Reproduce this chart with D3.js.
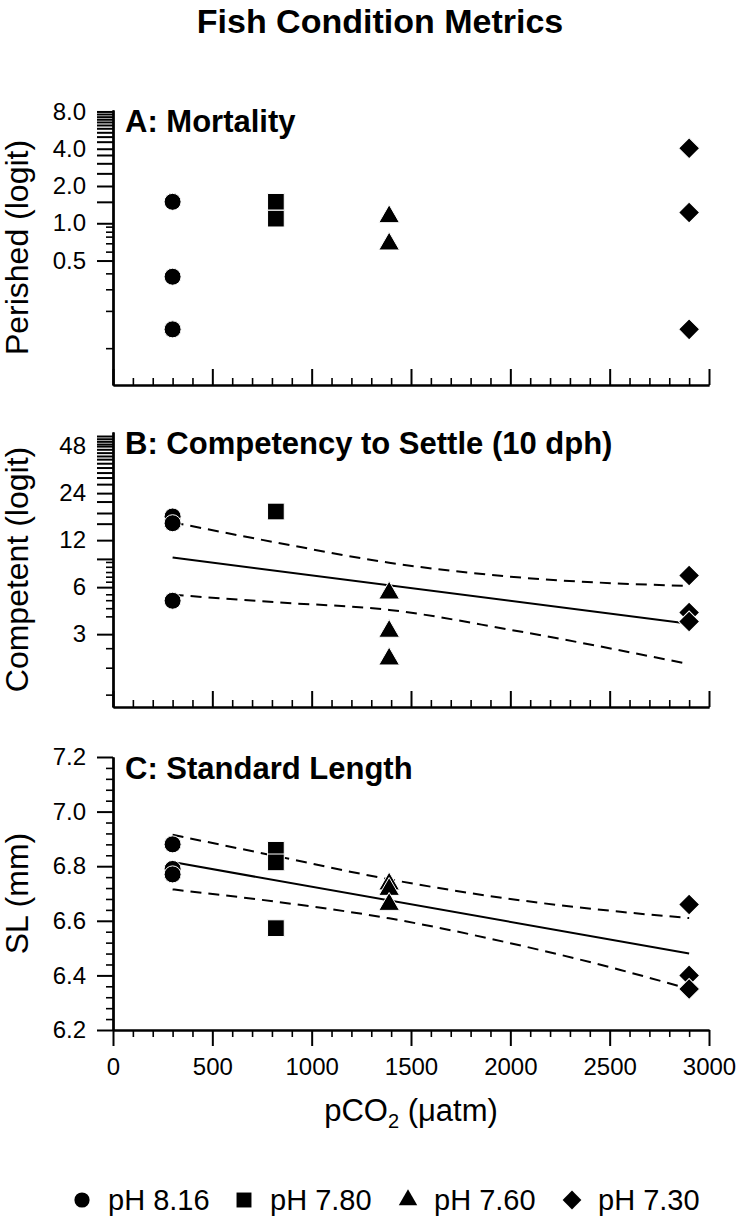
<!DOCTYPE html>
<html>
<head>
<meta charset="utf-8">
<script src="https://cdn.jsdelivr.net/npm/d3@7"></script>
<style>
body { margin: 0; background: #fff; }
text { font-family: "Liberation Sans", Arial, Helvetica, sans-serif; fill: #000; }
</style>
</head>
<body>
<script>
const width = 755
const height = 1229

// groups and their pCO2 levels
const groups = ["pH 8.16", "pH 7.80", "pH 7.60", "pH 7.30"]
const pco2 = [300, 820, 1390, 2900]

// replicate values per group
const mortality = [[1.49, 0.37, 0.139], [1.49, 1.09], [1.13, 0.68], [4.03, 1.22, 0.139]]
const competent = [[17.0, 15.4, 4.91], [18.3], [5.5, 3.13, 2.08], [7.12, 4.13, 3.62]]
const lengthSL = [[6.88, 6.79, 6.77], [6.86, 6.814, 6.573], [6.735, 6.715, 6.66], [6.66, 6.40, 6.35]]

// regression lines and confidence bands
const fitX = [300, 2900]
const competentFit = [9.29, 3.5]
const lengthFit = [6.815, 6.48]

const competentBandX = [300, 820, 1390, 2000, 2900]
const competentUpper = [15.6, 11.6, 8.6, 7.0, 6.1]
const competentLower = [5.36, 4.8, 4.29, 3.2, 1.93]

const lengthBandX = [300, 820, 1390, 2000, 2554, 2900]
const lengthUpper = [6.915, 6.837, 6.752, 6.68, 6.633, 6.61]
const lengthLower = [6.715, 6.67, 6.609, 6.518, 6.42, 6.35]

// ticks
const xMajor = [0, 500, 1000, 1500, 2000, 2500, 3000]
const xMinor = d3.range(0, 3001, 100).filter(v => v % 500 !== 0)

const mortLabels = [8, 4, 2, 1, 0.5]
const mortLong = [7.63, 7.26, 6.92, 6.58, 6.22, 5.85, 5.43, 5.01, 4.56, 3.56, 3.05, 2.53, 1.49]
const mortShort = [0.939, 0.855, 0.78, 0.689, 0.59, 0.394, 0.293, 0.196, 0.098]

const compLabels = [48, 24, 12, 6, 3]
const compLong = [55.7, 53.5, 51.5, 49.5, 45.8, 43.6, 41.5, 39.6, 37.3, 35, 32.5, 30.2, 27.4, 21.2, 17.9, 15.3, 9.1]
const compShort = [8.7, 8.1, 7.5, 7.0, 6.5, 5.4, 4.95, 4.4, 3.9, 2.44, 1.83, 1.23]

const slLabels = [6.2, 6.4, 6.6, 6.8, 7.0, 7.2]
const slMinor = d3.range(6.2, 7.2001, 0.04).filter(v => Math.abs(v * 5 - Math.round(v * 5)) > 0.01)

const svg = d3.select("body").append("svg")
  .attr("width", width)
  .attr("height", height)

const x = d3.scaleLinear().domain([0, 3000]).range([113, 709])

const shapes = [
  {type: d3.symbolCircle, size: 227, rot: 0},
  {type: d3.symbolSquare, size: 279, rot: 0},
  {type: d3.symbolTriangle, size: 185, rot: 0},
  {type: d3.symbolSquare, size: 220, rot: 45}
]

svg.append("text")
  .attr("x", 380).attr("y", 33)
  .attr("text-anchor", "middle")
  .attr("font-size", 34).attr("font-weight", "bold")
  .text("Fish Condition Metrics")

const panels = [
  {
    title: "A: Mortality", ylabel: "Perished (logit)",
    y: d3.scaleLog().base(2).domain([0.0494, 8.22]).range([385, 110]),
    values: mortality, labels: mortLabels, long: mortLong, short: mortShort,
    fmt: d3.format(".1f"), xLabels: false
  },
  {
    title: "B: Competency to Settle (10 dph)", ylabel: "Competent (logit)",
    y: d3.scaleLog().base(2).domain([1.025, 59.1]).range([707, 432]),
    values: competent, labels: compLabels, long: compLong, short: compShort,
    fmt: d3.format("d"), xLabels: false,
    fit: competentFit, bandX: competentBandX, upper: competentUpper, lower: competentLower
  },
  {
    title: "C: Standard Length", ylabel: "SL (mm)",
    y: d3.scaleLinear().domain([6.2, 7.2]).range([1030, 757]),
    values: lengthSL, labels: slLabels, long: [], short: slMinor,
    fmt: d3.format(".1f"), xLabels: true,
    fit: lengthFit, bandX: lengthBandX, upper: lengthUpper, lower: lengthLower
  }
]

function styleAxis(g, w) {
  g.select(".domain").attr("stroke", "#000").attr("stroke-width", 2)
  g.selectAll(".tick line").attr("stroke", "#000").attr("stroke-width", w)
  g.selectAll(".tick text").attr("font-size", 24).attr("font-family", "Liberation Sans, Arial, sans-serif")
}

panels.forEach(p => {
  const y = p.y
  const [y0, y1] = y.range()
  const g = svg.append("g")

  // y axis: minor, long and labelled ticks
  g.append("g").attr("transform", "translate(113,0)")
    .call(d3.axisLeft(y).tickValues(p.short).tickSize(7).tickSizeOuter(0).tickFormat(""))
    .call(a => styleAxis(a, 1.6))
  g.append("g").attr("transform", "translate(113,0)")
    .call(d3.axisLeft(y).tickValues(p.long).tickSize(16).tickSizeOuter(0).tickFormat(""))
    .call(a => styleAxis(a, 2))
  g.append("g").attr("transform", "translate(113,0)")
    .call(d3.axisLeft(y).tickValues(p.labels).tickSize(16).tickSizeOuter(0).tickPadding(11).tickFormat(p.fmt))
    .call(a => styleAxis(a, 2))

  // x axis
  const axisFn = p.xLabels ? d3.axisBottom : d3.axisTop
  g.append("g").attr("transform", `translate(0,${y0})`)
    .call(axisFn(x).tickValues(xMinor).tickSize(7).tickSizeOuter(0).tickFormat(""))
    .call(a => styleAxis(a, 1.6))
  g.append("g").attr("transform", `translate(0,${y0})`)
    .call(axisFn(x).tickValues(xMajor).tickSize(16).tickSizeOuter(0).tickPadding(12)
      .tickFormat(p.xLabels ? d3.format("d") : ""))
    .call(a => styleAxis(a, 2))

  // labels
  g.append("text")
    .attr("transform", `translate(28,${(y0 + y1) / 2}) rotate(-90)`)
    .attr("text-anchor", "middle")
    .attr("font-size", 32)
    .text(p.ylabel)

  g.append("text")
    .attr("x", 125).attr("y", y1 + 22)
    .attr("font-size", 31).attr("font-weight", "bold")
    .text(p.title)

  // regression and confidence band
  if (p.fit) {
    const line = d3.line().x(d => x(d[0])).y(d => y(d[1]))
    g.append("path")
      .attr("d", line(fitX.map((v, i) => [v, p.fit[i]])))
      .attr("fill", "none").attr("stroke", "#000").attr("stroke-width", 2)
    const band = d3.line().x(d => x(d[0])).y(d => y(d[1])).curve(d3.curveMonotoneX)
    ;[p.upper, p.lower].forEach(arr => {
      g.append("path")
        .attr("d", band(p.bandX.map((v, i) => [v, arr[i]])))
        .attr("fill", "none").attr("stroke", "#000").attr("stroke-width", 2)
        .attr("stroke-dasharray", "11,7")
    })
  }

  // points
  p.values.forEach((vals, gi) => {
    const s = shapes[gi]
    g.selectAll(null)
      .data(vals)
      .join("path")
      .attr("d", d3.symbol(s.type, s.size))
      .attr("transform", d => `translate(${x(pco2[gi])},${y(d)}) rotate(${s.rot})`)
      .attr("fill", "#000")
      .attr("stroke", "#fff")
      .attr("stroke-width", 1)
  })
})

// x axis title
const xt = svg.append("text")
  .attr("x", 411).attr("y", 1121)
  .attr("text-anchor", "middle")
  .attr("font-size", 31)
xt.append("tspan").text("pCO")
xt.append("tspan").attr("font-size", 20).attr("dy", 7).text("2")
xt.append("tspan").attr("dy", -7).text(" (μatm)")

// legend
const legendX = [82, 244, 408, 572]
const legend = svg.append("g")
groups.forEach((name, i) => {
  const s = shapes[i]
  legend.append("path")
    .attr("d", d3.symbol(s.type, s.size * 0.8))
    .attr("transform", `translate(${legendX[i]},1200) rotate(${s.rot})`)
    .attr("fill", "#000")
  legend.append("text")
    .attr("x", legendX[i] + 26).attr("y", 1210)
    .attr("font-size", 29)
    .text(name)
})
</script>
</body>
</html>
